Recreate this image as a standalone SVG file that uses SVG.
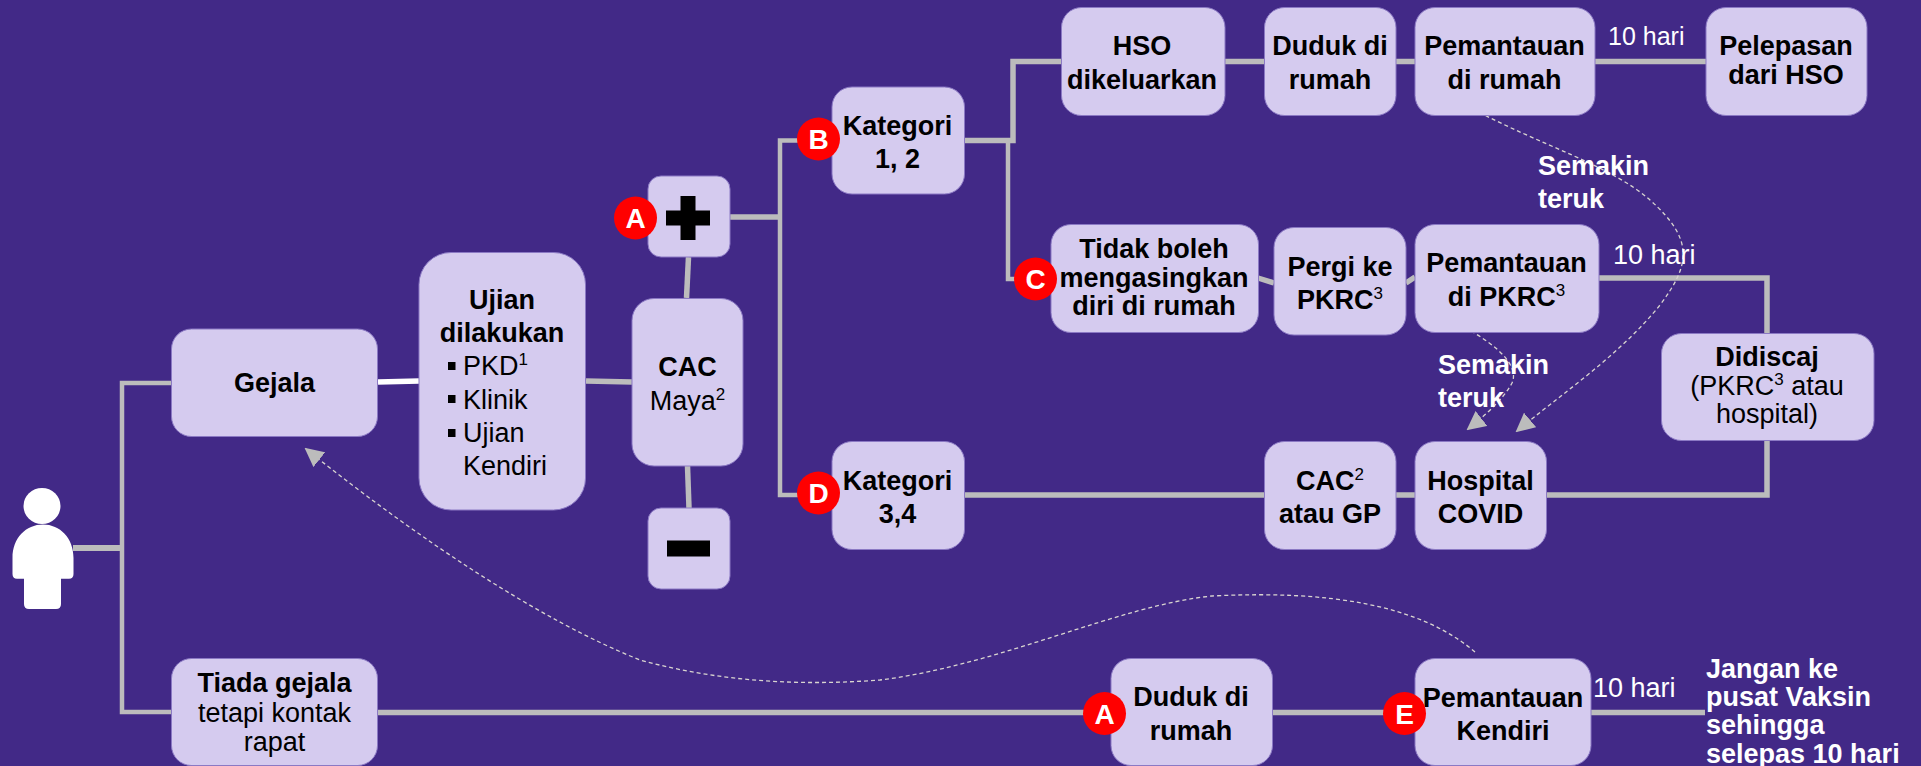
<svg xmlns="http://www.w3.org/2000/svg" width="1921" height="766" viewBox="0 0 1921 766">
<style>
text{font-family:"Liberation Sans",Arial,sans-serif;font-size:27px;fill:#000}
.c{text-anchor:middle}
.b{font-weight:700}
.w{fill:#fff}
.s{font-size:17px}
.n{fill:#d5cbef;stroke:#8b79c4;stroke-width:1}
.l{fill:none;stroke:#bcbcbc;stroke-width:5.500;stroke-linejoin:miter}
.t{fill:none;stroke:#bcbcbc;stroke-width:4.500;stroke-linejoin:miter}
.d{fill:none;stroke:#d9d5d0;stroke-width:1.300;stroke-dasharray:4 3}
.r{fill:#ff0000}
.m{fill:#fff;font-weight:700;font-size:28px;text-anchor:middle}
</style>
<defs>
<marker id="ah" viewBox="0 0 10 10" refX="9" refY="5" markerWidth="19" markerHeight="19" markerUnits="userSpaceOnUse" orient="auto"><path d="M0 0L10 5L0 10Z" fill="#bcbcbc"/></marker>
</defs>
<rect width="1921" height="766" fill="#422987"/>
<g id="connectors">
<path class="l" d="M73 548H122" style="stroke-width:6"/>
<path class="t" d="M171 383H122V712H171"/>
<path class="l" d="M378 382L419 381" style="stroke:#fff"/>
<path class="l" d="M586 381L632 382"/>
<path class="l" d="M688.500 257L686.500 298"/>
<path class="l" d="M687.500 466L689 508"/>
<path class="l" d="M730 217H780"/>
<path class="t" d="M832 140.500H780V495H832"/>
<path class="l" d="M964 140.500H1013V61.500H1061"/>
<path class="t" d="M1008 140.500V279H1051"/>
<path class="l" d="M1225 61.500H1264M1396 61.500H1415M1595 61.500H1706"/>
<path class="l" d="M1258 278L1274 283M1406 283L1415 277"/>
<path class="l" d="M1599 278H1767V333"/>
<path class="l" d="M1767 440V495H964"/>
<path class="l" d="M378 712.500H1111M1272 712.500H1415M1591 712.500H1705"/>
<path class="d" d="M1475 652C1420 605 1330 590 1212 596C1120 605 1000 665 880 680C800 686 720 682 640 660C540 620 420 540 306 449" marker-end="url(#ah)"/>
<path class="d" d="M1473 109C1540 145 1610 165 1650 200C1695 240 1690 265 1660 305C1620 355 1560 395 1517 431" marker-end="url(#ah)"/>
<path class="d" d="M1471 331C1495 345 1520 365 1512 383C1503 400 1482 418 1468 429" marker-end="url(#ah)"/>
</g>
<g id="person" fill="#fff">
<ellipse cx="42" cy="506" rx="18.500" ry="18"/>
<path d="M12.500 558C12.500 538 26 524.500 43 524.500C60 524.500 73.500 538 73.500 558V574Q73.500 578.700 69 578.700H61V604Q61 609 56 609H29Q24 609 24 604V578.700H17Q12.500 578.700 12.500 574Z"/>
</g>
<g id="gejala"><rect class="n" x="171.500" y="329" width="206" height="107.500" rx="20"/><text class="c b" x="274.500" y="392">Gejala</text></g>
<g id="ujian"><rect class="n" x="419" y="252.500" width="166.500" height="257.500" rx="32"/>
<text class="c b" x="502" y="309">Ujian</text><text class="c b" x="502" y="342">dilakukan</text>
<rect x="448" y="362" width="7.500" height="8"/><rect x="448" y="395" width="7.500" height="8"/><rect x="448" y="429" width="7.500" height="8"/>
<text x="463" y="375">PKD<tspan class="s" dy="-10">1</tspan></text><text x="463" y="408.500">Klinik</text><text x="463" y="442">Ujian</text><text x="463" y="474.500">Kendiri</text></g>
<g id="cac-maya"><rect class="n" x="632" y="298.500" width="111" height="167.500" rx="22"/><text class="c b" x="687.500" y="376">CAC</text><text class="c" x="687.500" y="409.500">Maya<tspan class="s" dy="-10">2</tspan></text></g>
<g id="positive"><rect class="n" x="648" y="176" width="82" height="81" rx="13"/><path d="M680.500 196H695.500V210.500H710V225.500H695.500V240H680.500V225.500H666V210.500H680.500Z"/></g>
<g id="negative"><rect class="n" x="648" y="508" width="82" height="81" rx="13"/><rect x="667" y="540.500" width="43" height="16"/></g>
<g id="tiada"><rect class="n" x="171.500" y="658.500" width="206" height="107" rx="20"/><text class="c b" x="274.500" y="691.500">Tiada gejala</text><text class="c" x="274.500" y="721.500">tetapi kontak</text><text class="c" x="274.500" y="751">rapat</text></g>
<g id="kategori12"><rect class="n" x="832" y="87" width="132.500" height="107" rx="20"/><text class="c b" x="897.500" y="134.500">Kategori</text><text class="c b" x="897.500" y="167.500">1, 2</text></g>
<g id="kategori34"><rect class="n" x="832" y="441.500" width="132.500" height="108" rx="20"/><text class="c b" x="897.500" y="489.500">Kategori</text><text class="c b" x="897.500" y="522.500">3,4</text></g>
<g id="hso"><rect class="n" x="1061.500" y="7.500" width="163.500" height="108" rx="20"/><text class="c b" x="1142" y="55">HSO</text><text class="c b" x="1142" y="89">dikeluarkan</text></g>
<g id="duduk1"><rect class="n" x="1264.500" y="7.500" width="131.500" height="108" rx="20"/><text class="c b" x="1330" y="55">Duduk di</text><text class="c b" x="1330" y="89">rumah</text></g>
<g id="pemantauan-rumah"><rect class="n" x="1415" y="7.500" width="180" height="108" rx="20"/><text class="c b" x="1504.500" y="55">Pemantauan</text><text class="c b" x="1504.500" y="89">di rumah</text></g>
<g id="pelepasan"><rect class="n" x="1706" y="7.500" width="161" height="108" rx="20"/><text class="c b" x="1786" y="55">Pelepasan</text><text class="c b" x="1786" y="83.500">dari HSO</text></g>
<g id="tidak-boleh"><rect class="n" x="1051" y="224.500" width="207.500" height="108" rx="20"/><text class="c b" x="1154" y="257.500">Tidak boleh</text><text class="c b" x="1154" y="286.500">mengasingkan</text><text class="c b" x="1154" y="315">diri di rumah</text></g>
<g id="pergi"><rect class="n" x="1274" y="227.500" width="132" height="107.500" rx="20"/><text class="c b" x="1340" y="275.500">Pergi ke</text><text class="c b" x="1340" y="309">PKRC<tspan class="s" style="font-weight:400" dy="-10">3</tspan></text></g>
<g id="pemantauan-pkrc"><rect class="n" x="1415" y="224.500" width="184" height="108" rx="20"/><text class="c b" x="1506.500" y="272">Pemantauan</text><text class="c b" x="1506.500" y="305.500">di PKRC<tspan class="s" style="font-weight:400" dy="-10">3</tspan></text></g>
<g id="didiscaj"><rect class="n" x="1661.500" y="333.500" width="212.500" height="107" rx="20"/><text class="c b" x="1767" y="366">Didiscaj</text><text class="c" x="1767" y="394.500">(PKRC<tspan class="s" dy="-10">3</tspan><tspan dy="10"> atau</tspan></text><text class="c" x="1767" y="422.500">hospital)</text></g>
<g id="cac-gp"><rect class="n" x="1264.500" y="441.500" width="131.500" height="108" rx="20"/><text class="c b" x="1330" y="489.500">CAC<tspan class="s" style="font-weight:400" dy="-10">2</tspan></text><text class="c b" x="1330" y="522.500">atau GP</text></g>
<g id="hospital"><rect class="n" x="1415" y="441.500" width="131.500" height="108" rx="20"/><text class="c b" x="1480.500" y="489.500">Hospital</text><text class="c b" x="1480.500" y="522.500">COVID</text></g>
<g id="duduk2"><rect class="n" x="1111" y="658.500" width="161.500" height="107" rx="20"/><text class="c b" x="1191" y="706">Duduk di</text><text class="c b" x="1191" y="739.500">rumah</text></g>
<g id="pemantauan-kendiri"><rect class="n" x="1415" y="658.500" width="176" height="107" rx="20"/><text class="c b" x="1503" y="706.500">Pemantauan</text><text class="c b" x="1503" y="739.500">Kendiri</text></g>
<g id="labels">
<text class="w" x="1608" y="45" style="font-size:25px">10 hari</text>
<text class="w" x="1613" y="263.500">10 hari</text>
<text class="w" x="1593" y="696.500">10 hari</text>
<text class="w b" x="1538" y="174.500">Semakin</text><text class="w b" x="1538" y="208">teruk</text>
<text class="w b" x="1438" y="373.500">Semakin</text><text class="w b" x="1438" y="407">teruk</text>
<text class="w b" x="1706" y="677.500">Jangan ke</text><text class="w b" x="1706" y="705.500">pusat Vaksin</text><text class="w b" x="1706" y="734">sehingga</text><text class="w b" x="1706" y="762.500">selepas 10 hari</text>
</g>
<g id="badge-a1"><circle class="r" cx="635.500" cy="218" r="21.500"/><text class="m" x="635.500" y="228">A</text></g>
<g id="badge-b"><circle class="r" cx="818.500" cy="139" r="21.500"/><text class="m" x="818.500" y="149">B</text></g>
<g id="badge-c"><circle class="r" cx="1035.500" cy="279" r="21.500"/><text class="m" x="1035.500" y="289">C</text></g>
<g id="badge-d"><circle class="r" cx="818.500" cy="493" r="21.500"/><text class="m" x="818.500" y="503">D</text></g>
<g id="badge-a2"><circle class="r" cx="1104.500" cy="713.500" r="21.500"/><text class="m" x="1104.500" y="723.500">A</text></g>
<g id="badge-e"><circle class="r" cx="1404.500" cy="713.500" r="21.500"/><text class="m" x="1404.500" y="723.500">E</text></g>
</svg>
